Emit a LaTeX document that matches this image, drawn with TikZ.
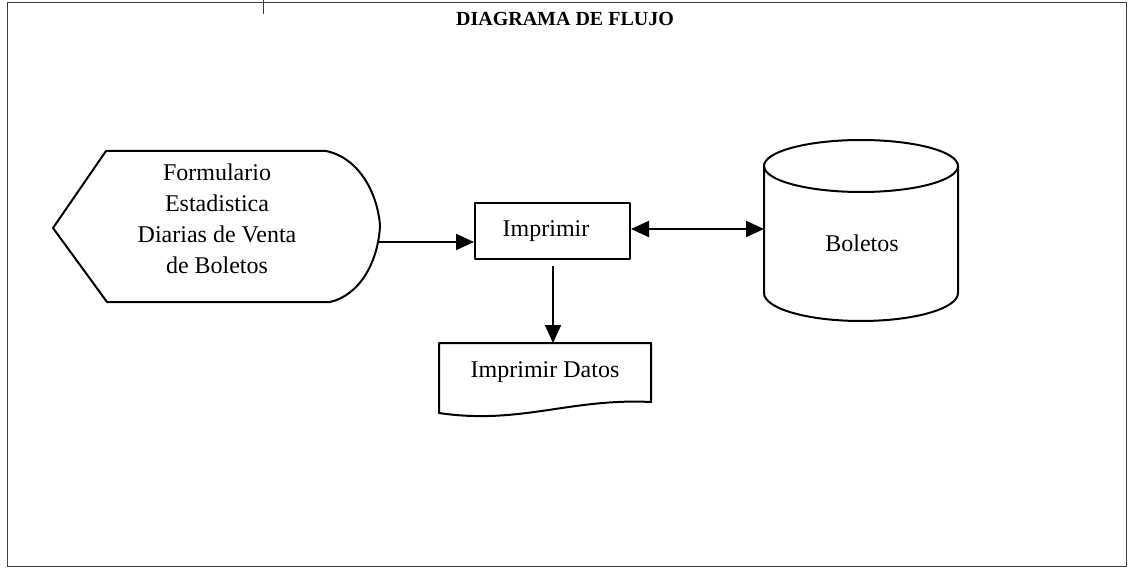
\documentclass[tikz,border=0pt]{standalone}
\usepackage{fontspec}
\setmainfont{Liberation Serif}
\usetikzlibrary{arrows.meta,calc}
\tikzset{
  shapeline/.style={line width=2pt, line join=round},
  framel/.style={line width=1pt, draw=black!75},
  tip/.tip={Triangle[length=18pt,width=16pt]},
  arr/.style={line width=2pt, -tip},
  darr/.style={line width=2pt, tip-tip},
  lbl/.style={font=\fontsize{24}{31}\selectfont, align=center, inner sep=0pt},
  procbox/.style={shapeline, draw, minimum width=155pt, minimum height=56pt, inner sep=0pt}
}
\begin{document}
\begin{tikzpicture}[x=1pt,y=-1pt]
\useasboundingbox (0,0) rectangle (1128,575);
% frame
\draw[framel] (7,3) rectangle (1126,566);
\draw[framel] (263,0) -- (263,14);
% title
\node[font=\bfseries\fontsize{20}{24}\selectfont, inner sep=0pt] (title) at (565,19) {DIAGRAMA DE FLUJO};
% display shape
\draw[shapeline] (53,228) -- (106,151) -- (326,151)
  .. controls (360,158) and (378,195) .. (380,226)
  .. controls (378,262) and (360,295) .. (330,302) -- (107,302) -- cycle;
\node[lbl] (disp) at (217,219) {Formulario\\Estadistica\\Diarias de Venta\\de Boletos};
\coordinate (dispR) at (379,242);
% process box
\node[procbox, lbl] (imp) at (552.5,231) {};
\node[lbl] (imptxt) at (546,231) {Imprimir};
% document shape
\draw[shapeline] (439,343) -- (651,343) -- (651,402)
  .. controls (570,398) and (520,425) .. (439,413) -- cycle;
\coordinate (docN) at (553,343);
\node[lbl] (doc) at (545,372) {Imprimir Datos};
% cylinder
\draw[shapeline] (764,166) -- (764,293) arc[start angle=180, end angle=0, x radius=97, y radius=28] -- (958,166);
\draw[shapeline] (861,166) ellipse[x radius=97, y radius=26];
\coordinate (dbW) at (764,229);
\node[lbl] (db) at (862,243) {Boletos};
% connectors
\draw[arr] (dispR) -- (dispR -| imp.west);
\draw[darr] (dbW -| imp.east) -- (dbW);
\draw[arr, shorten <=6pt] (imp.south -| docN) -- (docN);
\end{tikzpicture}
\end{document}
